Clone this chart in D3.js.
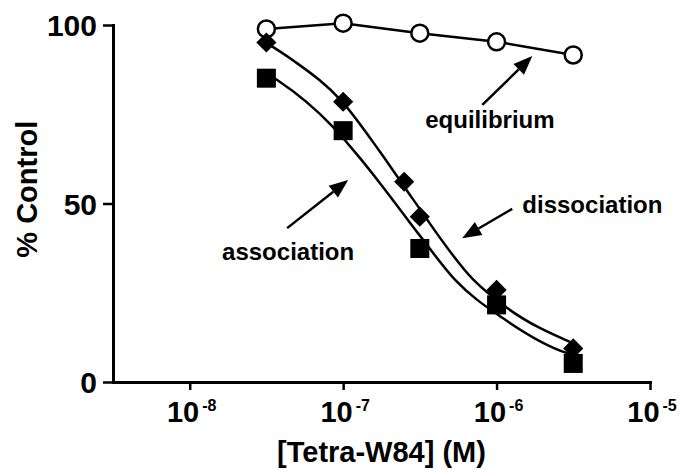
<!DOCTYPE html>
<html>
<head>
<meta charset="utf-8">
<script src="https://cdn.jsdelivr.net/npm/d3@7"></script>
<style>
  body { margin: 0; background: #fff; }
  svg text { font-family: "Liberation Sans", Arial, Helvetica, sans-serif; font-weight: bold; fill: #000; }
</style>
</head>
<body>
<svg id="chart"></svg>
<script>
// Concentration points (M)
const concentrations = [3.16e-8, 1e-7, 3.16e-7, 1e-6, 3.16e-6];
const equilibriumValues = [98.9, 100.5, 97.7, 95.3, 91.6];
const associationValues = [85.1, 70.4, 37.4, 21.6, 5.2];
const dissociationConc = [3.16e-8, 1e-7, 2.5e-7, 3.16e-7, 1e-6, 3.16e-6];
const dissociationValues = [95.1, 78.5, 56.1, 46.3, 25.8, 9.4];

// Fitted curves (log10 of conc, % control)
const dissocFitLogX = [-7.5, -7.33, -7.01, -6.76, -6.55, -6.15, -5.93, -5.5];
const dissocFitY = [95.0, 90.2, 78.7, 64.5, 51.5, 28.6, 20.7, 10.8];
const assocFitLogX = [-7.5, -7.43, -7.065, -6.89, -6.76, -6.5, -6.27, -5.96, -5.54, -5.5];
const assocFitY = [86.5, 84.6, 71.4, 62.7, 55.7, 41.0, 28.6, 17.9, 8.1, 7.6];

// Axis ticks
const xTickExponents = [-8, -7, -6, -5];
const yTicks = [0, 50, 100];

// Annotations (log10 conc, % control)
const annotations = [
    { label: "equilibrium", at: [-6.465, 71.1], tail: [-6.093, 77.6], tip: [-5.767, 91.3] },
    { label: "dissociation", at: [-5.832, 47.3], tail: [-5.898, 48.5], tip: [-6.224, 40.3] },
    { label: "association", at: [-7.789, 34.2], tail: [-7.365, 43.1], tip: [-6.967, 56.6] }
];

const width = 679;
const height = 470;
const margin = { left: 113, right: 29, top: 25, bottom: 88 };

const svg = d3.select("#chart")
    .attr("width", width)
    .attr("height", height);

const x = d3.scaleLog()
    .domain([Math.pow(10, -8.5), 1e-5])
    .range([margin.left, width - margin.right]);

const y = d3.scaleLinear()
    .domain([0, 100])
    .range([height - margin.bottom, margin.top]);

const lx = v => x(Math.pow(10, v)); // position from log10 value

// Axes
const xAxis = svg.append("g")
    .attr("transform", `translate(0,${y(0)})`)
    .call(d3.axisBottom(x)
        .tickValues(xTickExponents.map(e => Math.pow(10, e)))
        .tickSize(8)
        .tickSizeOuter(0)
        .tickFormat(""));

const yAxis = svg.append("g")
    .attr("transform", `translate(${x.range()[0]},0)`)
    .call(d3.axisLeft(y)
        .tickValues(yTicks)
        .tickSize(10)
        .tickSizeOuter(0)
        .tickPadding(6));

[xAxis, yAxis].forEach(g => {
    g.select(".domain").attr("stroke-width", 3).attr("stroke-linecap", "square");
    g.selectAll(".tick line").attr("stroke-width", 2.5);
});

yAxis.selectAll(".tick text")
    .attr("font-size", 30)
    .attr("dy", "0.36em");

// x tick labels as 10 with superscript exponent
const xLabels = svg.append("g");
xTickExponents.forEach(e => {
    const t = xLabels.append("text")
        .attr("x", x(Math.pow(10, e)) + 2)
        .attr("y", y(0) + 40)
        .attr("text-anchor", "middle")
        .attr("font-size", 29);
    t.append("tspan").text("10");
    t.append("tspan")
        .attr("dx", 3)
        .attr("dy", -11)
        .attr("font-size", 16)
        .text(String(e));
});

// Axis titles
svg.append("text")
    .attr("x", (x.range()[0] + x.range()[1]) / 2)
    .attr("y", height - 8)
    .attr("text-anchor", "middle")
    .attr("font-size", 29)
    .text("[Tetra-W84] (M)");

svg.append("text")
    .attr("transform", `translate(37,${y(54)}) rotate(-90)`)
    .attr("text-anchor", "middle")
    .attr("font-size", 29)
    .text("% Control");

// Curves
const line = d3.line()
    .x(d => d[0])
    .y(d => d[1]);

const fitLine = d3.line()
    .x(d => d[0])
    .y(d => d[1])
    .curve(d3.curveMonotoneX);

svg.append("path")
    .attr("d", line(concentrations.map((c, i) => [x(c), y(equilibriumValues[i])])))
    .attr("fill", "none")
    .attr("stroke", "#000")
    .attr("stroke-width", 2.5);

svg.append("path")
    .attr("d", fitLine(dissocFitLogX.map((v, i) => [lx(v), y(dissocFitY[i])])))
    .attr("fill", "none")
    .attr("stroke", "#000")
    .attr("stroke-width", 2.5);

svg.append("path")
    .attr("d", fitLine(assocFitLogX.map((v, i) => [lx(v), y(assocFitY[i])])))
    .attr("fill", "none")
    .attr("stroke", "#000")
    .attr("stroke-width", 2.5);

// Markers: open circles, then diamonds, then squares
svg.append("g").selectAll("circle")
    .data(concentrations.map((c, i) => [c, equilibriumValues[i]]))
    .join("circle")
    .attr("cx", d => x(d[0]))
    .attr("cy", d => y(d[1]))
    .attr("r", 8.5)
    .attr("fill", "#fff")
    .attr("stroke", "#000")
    .attr("stroke-width", 2.5);

svg.append("g").selectAll("path")
    .data(dissociationConc.map((c, i) => [c, dissociationValues[i]]))
    .join("path")
    .attr("transform", d => `translate(${x(d[0])},${y(d[1])})`)
    .attr("d", d3.symbol(d3.symbolDiamond2, 260))
    .attr("fill", "#000");

svg.append("g").selectAll("rect")
    .data(concentrations.map((c, i) => [c, associationValues[i]]))
    .join("rect")
    .attr("x", d => x(d[0]) - 9.5)
    .attr("y", d => y(d[1]) - 9.5)
    .attr("width", 19)
    .attr("height", 19)
    .attr("fill", "#000");

// Annotations with arrows
const notes = svg.append("g");
annotations.forEach(a => {
    notes.append("text")
        .attr("x", lx(a.at[0]))
        .attr("y", y(a.at[1]))
        .attr("font-size", 24)
        .text(a.label);

    const x1 = lx(a.tail[0]), y1 = y(a.tail[1]);
    const x2 = lx(a.tip[0]), y2 = y(a.tip[1]);
    const ang = Math.atan2(y2 - y1, x2 - x1);
    const headLen = 19, headHalf = 7.5;
    const bx = x2 - headLen * Math.cos(ang), by = y2 - headLen * Math.sin(ang);

    notes.append("line")
        .attr("x1", x1).attr("y1", y1)
        .attr("x2", bx).attr("y2", by)
        .attr("stroke", "#000")
        .attr("stroke-width", 2.5);

    notes.append("path")
        .attr("d", `M${x2},${y2}L${bx - headHalf * Math.sin(ang)},${by + headHalf * Math.cos(ang)}L${bx + headHalf * Math.sin(ang)},${by - headHalf * Math.cos(ang)}Z`)
        .attr("fill", "#000");
});
</script>
</body>
</html>
